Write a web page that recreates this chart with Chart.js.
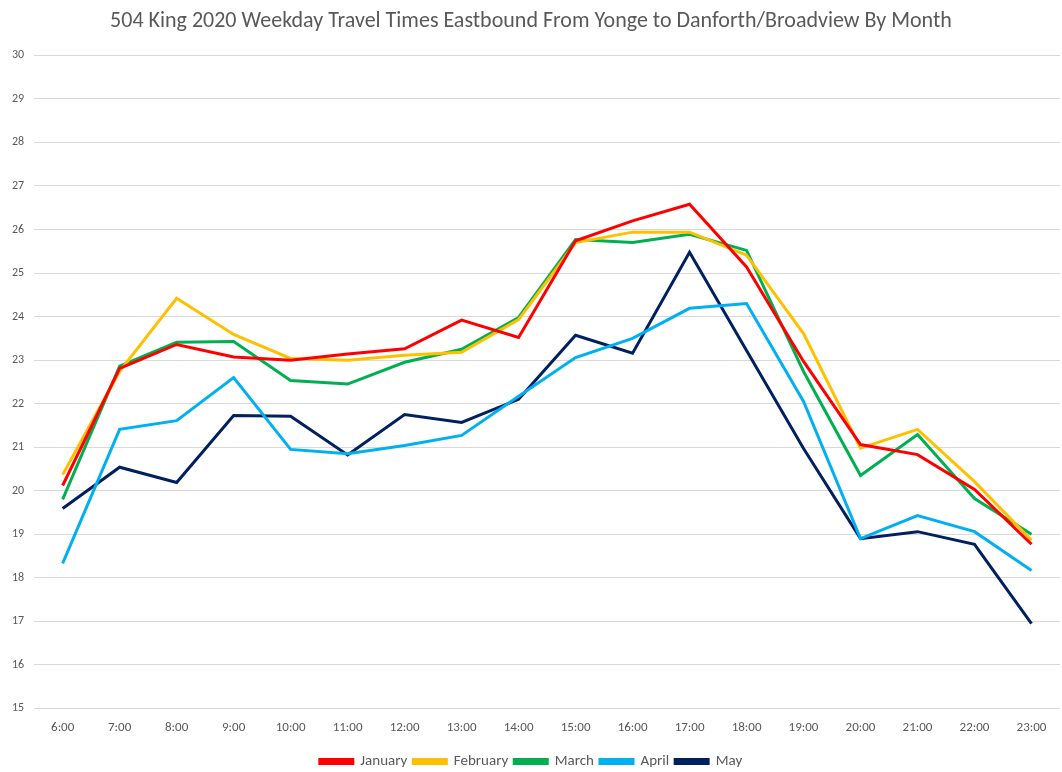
<!DOCTYPE html>
<html>
<head>
<meta charset="utf-8">
<script src="https://cdn.jsdelivr.net/npm/chart.js@4"></script>
<style>
html,body{margin:0;padding:0;background:#fff;}
#wrap{width:1062px;height:772px;position:relative;}
</style>
</head>
<body>
<div id="wrap"><canvas id="c"></canvas></div>
<script>
const hours = ["6:00","7:00","8:00","9:00","10:00","11:00","12:00","13:00","14:00","15:00","16:00","17:00","18:00","19:00","20:00","21:00","22:00","23:00"];
const january  = [20.12,22.81,23.36,23.07,23.00,23.14,23.26,23.92,23.52,25.74,26.20,26.58,25.14,22.97,21.06,20.83,20.03,18.77];
const february = [20.37,22.74,24.42,23.59,23.04,23.00,23.11,23.18,23.93,25.70,25.94,25.94,25.41,23.61,20.98,21.41,20.21,18.86];
const march    = [19.80,22.86,23.41,23.43,22.53,22.45,22.95,23.25,23.98,25.77,25.70,25.89,25.52,22.74,20.35,21.29,19.82,19.00];
const april    = [18.33,21.41,21.61,22.60,20.95,20.85,21.04,21.27,22.17,23.06,23.50,24.19,24.30,22.05,18.90,19.43,19.06,18.17];
const may      = [19.59,20.54,20.19,21.73,21.71,20.82,21.75,21.57,22.10,23.57,23.16,25.48,23.22,20.97,18.90,19.06,18.77,16.95];
const seriesNames = ["January","February","March","April","May"];
const seriesData = [january,february,march,april,may];
const seriesColors = ["#FF0000","#FFC000","#00B050","#00B0F0","#002060"];
const yMin = 15, yMax = 30, yStep = 1;

const FONT = "'Carlito','Liberation Sans Narrow','Open Sans',sans-serif";
const TXT = "#595959";

new Chart(document.getElementById('c'), {
  type: 'line',
  data: {
    labels: hours,
    datasets: seriesNames.map((n,i)=>({
      label: n,
      data: seriesData[i],
      borderColor: seriesColors[i],
      backgroundColor: seriesColors[i],
      borderWidth: 3,
      pointRadius: 0,
      tension: 0,
      fill: false
    }))
  },
  options: {
    responsive: true,
    maintainAspectRatio: false,
    animation: false,
    layout: { padding: { left: 2, right: 2, top: 4, bottom: -7 } },
    plugins: {
      title: {
        display: true,
        text: "504 King 2020 Weekday Travel Times Eastbound From Yonge to Danforth/Broadview By Month",
        color: TXT,
        font: { family: FONT, size: 22, weight: 'normal' },
        padding: { top: 4, bottom: 21 }
      },
      legend: {
        position: 'bottom',
        labels: {
          color: TXT,
          font: { family: FONT, size: 15 },
          boxWidth: 33,
          boxHeight: 4,
          padding: 6
        }
      },
      tooltip: { enabled: false }
    },
    scales: {
      x: {
        offset: true,
        grid: { display: false, drawTicks: false },
        border: { display: false },
        ticks: { color: TXT, font: { family: FONT, size: 13 }, padding: 12, maxRotation: 0, autoSkip: false }
      },
      y: {
        min: yMin, max: yMax,
        ticks: { stepSize: yStep, color: TXT, font: { family: FONT, size: 12 }, padding: 10 },
        grid: { color: "#D9D9D9", lineWidth: 1, drawTicks: false },
        border: { display: false }
      }
    }
  }
});
</script>
</body>
</html>
